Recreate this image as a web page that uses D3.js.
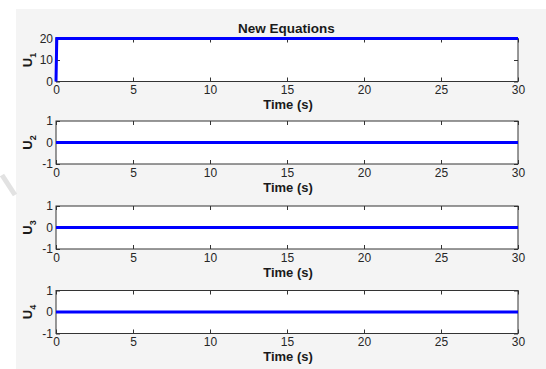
<!DOCTYPE html>
<html>
<head>
<meta charset="utf-8">
<script src="https://cdn.jsdelivr.net/npm/d3@7"></script>
<style>
  html, body { margin: 0; padding: 0; background: #ffffff; }
  svg { display: block; font-family: "Liberation Sans", Arial, sans-serif; }
</style>
</head>
<body>
<svg id="fig" width="546" height="369"></svg>
<script>
// Control inputs over the simulation run
const timeTicks = [0, 5, 10, 15, 20, 25, 30];
const timeU = [0, 0.05, 30];
const u1 = [0, 20, 20];
const u2 = [0, 0, 0];
const u3 = [0, 0, 0];
const u4 = [0, 0, 0];
const yTicks1 = [0, 10, 20];
const yTicksUnit = [-1, 0, 1];
const panelNames = ["1", "2", "3", "4"];
const figTitle = "New Equations";
const xLabel = "Time (s)";

const panels = [
  { series: u1, domain: [0, 20], ticks: yTicks1, top: 38.5 },
  { series: u2, domain: [-1, 1], ticks: yTicksUnit, top: 121 },
  { series: u3, domain: [-1, 1], ticks: yTicksUnit, top: 206 },
  { series: u4, domain: [-1, 1], ticks: yTicksUnit, top: 290.5 }
];

const svg = d3.select("#fig");
const left = 56, right = 518, h = 43;
const axisColor = "#333333";
// plain hyphen-minus for negative tick labels
const fmt = d => String(d);

// figure background
svg.append("rect").attr("x", 16).attr("y", 9).attr("width", 530).attr("height", 360)
  .attr("fill", "#f4f4f4");

// faint stroke on the left margin
svg.append("line").attr("x1", 2).attr("y1", 175).attr("x2", 15).attr("y2", 195)
  .attr("stroke", "#e2e2e2").attr("stroke-width", 5);

const x = d3.scaleLinear().domain([0, 30]).range([left, right]);

panels.forEach((p, i) => {
  const g = svg.append("g");
  const y = d3.scaleLinear().domain(p.domain).range([p.top + h, p.top]);

  g.append("rect").attr("x", left).attr("y", p.top).attr("width", right - left).attr("height", h)
    .attr("fill", "#ffffff");

  // bottom axis with inward ticks
  const xb = d3.axisBottom(x).tickValues(timeTicks).tickSize(-4).tickPadding(4).tickFormat(fmt);
  const ax = g.append("g").attr("transform", `translate(0,${p.top + h})`).call(xb);
  // top axis ticks
  const xt = d3.axisTop(x).tickValues(timeTicks).tickSize(-4).tickFormat("");
  const axT = g.append("g").attr("transform", `translate(0,${p.top})`).call(xt);
  // left axis
  const yl = d3.axisLeft(y).tickValues(p.ticks).tickSize(-4).tickPadding(3).tickFormat(fmt);
  const ayL = g.append("g").attr("transform", `translate(${left},0)`).call(yl);
  const yr = d3.axisRight(y).tickValues(p.ticks).tickSize(-4).tickFormat("");
  const ayR = g.append("g").attr("transform", `translate(${right},0)`).call(yr);

  [ax, axT, ayL, ayR].forEach(a => {
    a.select(".domain").remove();
    a.selectAll("line").attr("stroke", axisColor);
    a.selectAll("text").attr("fill", "#262626").style("font-size", "12px")
      .style("font-family", "'Liberation Sans', Arial, sans-serif");
  });
  ax.selectAll("text").attr("dy", "0.71em");

  // box
  g.append("rect").attr("x", left).attr("y", p.top).attr("width", right - left).attr("height", h)
    .attr("fill", "none").attr("stroke", axisColor).attr("stroke-width", 1);

  // data line
  const line = d3.line().x((d, k) => x(timeU[k])).y(d => y(d));
  g.append("path").datum(p.series).attr("d", line)
    .attr("fill", "none").attr("stroke", "#0000ff").attr("stroke-width", 3);

  // x label
  g.append("text").attr("x", (left + right) / 2 + 1).attr("y", p.top + h + 27.5)
    .attr("text-anchor", "middle").attr("font-weight", "bold").attr("font-size", 13)
    .attr("fill", "#1a1a1a").text(xLabel);

  // y label U with subscript
  const yt = g.append("text")
    .attr("transform", `translate(32,${p.top + h / 2}) rotate(-90)`)
    .attr("text-anchor", "middle").attr("font-weight", "bold").attr("font-size", 13)
    .attr("fill", "#1a1a1a");
  yt.append("tspan").text("U");
  yt.append("tspan").attr("dy", 4).attr("font-size", 9).text(panelNames[i]);
});

// title
svg.append("text").attr("x", (left + right) / 2 - 0.5).attr("y", 32.5)
  .attr("text-anchor", "middle").attr("font-weight", "bold").attr("font-size", 13.5)
  .attr("fill", "#1a1a1a").text(figTitle);
</script>
</body>
</html>
